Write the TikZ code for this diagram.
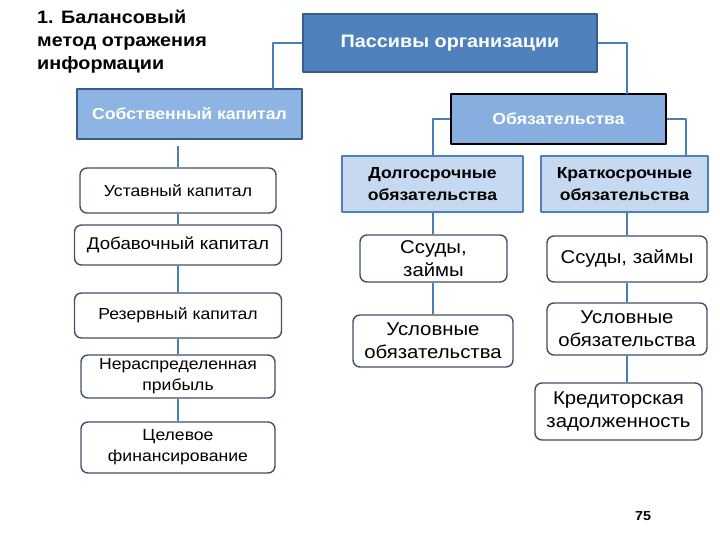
\documentclass[tikz,border=0pt]{standalone}
\usepackage{fontspec}
\setmainfont{Liberation Sans}[FakeStretch=1.1]
\usetikzlibrary{positioning}
\definecolor{darkBlue}{RGB}{79,129,189}
\definecolor{edgeBlue}{RGB}{56,93,138}
\definecolor{midBlue}{RGB}{141,180,226}
\definecolor{paleBlue}{RGB}{198,217,241}
\definecolor{lineBlue}{RGB}{74,126,187}
\definecolor{slateGrey}{RGB}{64,80,102}

\begin{document}
\begin{tikzpicture}[x=1pt, y=-1pt, line join=round,
  headbox/.style={draw=edgeBlue, line width=1.3pt, fill=darkBlue, text=white, font=\bfseries\fontsize{18}{21}\selectfont, inner sep=0pt},
  groupbox/.style={draw=edgeBlue, line width=1.3pt, fill=midBlue, text=white, font=\bfseries\fontsize{16}{19}\selectfont, inner sep=0pt},
  kindbox/.style={draw=darkBlue, line width=1.1pt, fill=paleBlue, font=\bfseries\fontsize{16}{22}\selectfont, align=center, inner sep=0pt},
  itembox/.style={draw=slateGrey, line width=1.4pt, rounded corners=7pt, fill=white, align=center, inner sep=0pt, font=\fontsize{16}{21}\selectfont},
  bigitem/.style={itembox, font=\fontsize{18.5}{23}\selectfont},
  link/.style={draw=lineBlue, line width=1.3pt}]
\useasboundingbox (0,0) rectangle (720,540);

% title
\node[anchor=north west, align=left, inner sep=0pt, font=\bfseries\fontsize{18}{23}\selectfont] (title) at (37,10)
  {1. Балансовый\\метод отражения\\информации};

% upper levels
\node[headbox, minimum width=294pt, minimum height=58pt] (pass) at (450,43) {Пассивы организации};
\node[groupbox, minimum width=225pt, minimum height=50pt] (sobst) at (189.5,114) {Собственный капитал};
\node[groupbox, draw=black, line width=1.8pt, fill=midBlue!88!darkBlue, minimum width=215pt, minimum height=50pt] (obyaz) at (558.5,119) {Обязательства};
\node[kindbox, minimum width=181pt, minimum height=56pt] (dolg) at (432.5,184) {Долгосрочные\\обязательства};
\node[kindbox, minimum width=167pt, minimum height=56pt] (krat) at (624.5,184) {Краткосрочные\\обязательства};

% own capital
\node[itembox, minimum width=196pt, minimum height=45pt] (ust) at (178,190.5) {Уставный капитал};
\node[itembox, minimum width=207pt, minimum height=40pt, font=\fontsize{17}{21}\selectfont] (dob) at (178,245) {Добавочный капитал};
\node[itembox, minimum width=207pt, minimum height=45pt] (rez) at (178,315.5) {Резервный капитал};
\node[itembox, minimum width=194pt, minimum height=43pt] (nerasp) at (178,376.5) {Нераспределенная\\прибыль};
\node[itembox, minimum width=194pt, minimum height=51pt] (tsel) at (178,447.5) {Целевое\\финансирование};

% liabilities
\node[bigitem, minimum width=147pt, minimum height=47pt] (ssl) at (433.5,258.5) {Ссуды,\\займы};
\node[bigitem, minimum width=160pt, minimum height=52pt] (usll) at (433,341) {Условные\\обязательства};
\node[bigitem, minimum width=160pt, minimum height=46pt] (ssr) at (627,259) {Ссуды, займы};
\node[bigitem, minimum width=160pt, minimum height=52pt] (uslr) at (627,329) {Условные\\обязательства};
\node[bigitem, minimum width=167pt, minimum height=57pt] (kred) at (618.5,411.5) {Кредиторская\\задолженность};

\node[font=\bfseries\fontsize{13}{15}\selectfont, inner sep=0pt] (page) at (643,516) {75};

% connectors
\coordinate (sk) at (273,89);
\coordinate (ob) at (627,94);
\coordinate (dl) at (433,156);
\coordinate (kr) at (686,156);
\coordinate (sb) at (178,146);
\draw[link] (pass.west) -| (sk);
\draw[link] (pass.east) -| (ob);
\draw[link] (obyaz.west) -| (dl);
\draw[link] (obyaz.east) -| (kr);
\draw[link] (sb) -- (ust.north);
\draw[link] (ust.south) -- (dob.north);
\draw[link] (dob.south) -- (rez.north);
\draw[link] (rez.south) -- (nerasp.north);
\draw[link] (nerasp.south) -- (tsel.north);
\draw[link] (dl |- dolg.south) -- (dl |- ssl.north);
\draw[link] (dl |- ssl.south) -- (dl |- usll.north);
\draw[link] (ssr.north |- krat.south) -- (ssr.north);
\draw[link] (ssr.south) -- (uslr.north);
\draw[link] (uslr.south) -- (uslr.south |- kred.north);
\end{tikzpicture}
\end{document}
